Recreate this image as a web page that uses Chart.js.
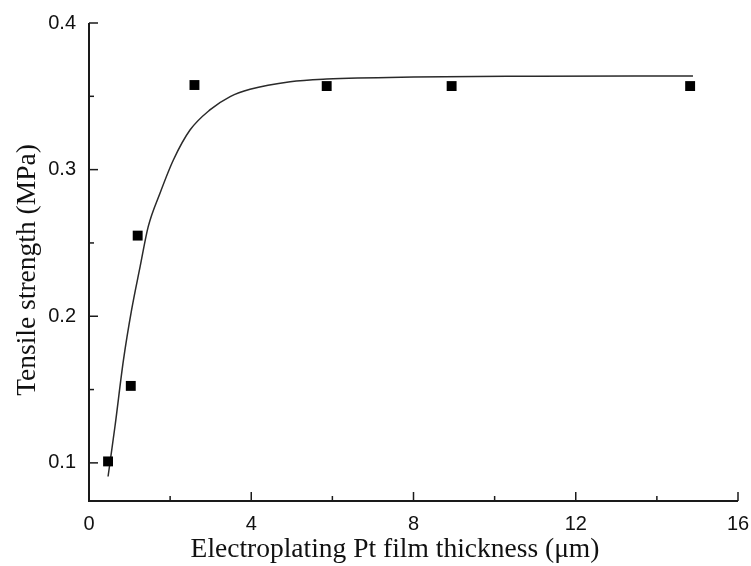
<!DOCTYPE html>
<html>
<head>
<meta charset="utf-8">
<script src="https://cdn.jsdelivr.net/npm/chart.js@4/dist/chart.umd.min.js"></script>
<style>
    html, body { margin: 0; padding: 0; background: #ffffff; }
    #wrap { width: 751px; height: 566px; }
</style>
</head>
<body>
<div id="wrap"><canvas id="tensileChart" width="751" height="566"></canvas></div>
<script>
// ===== measured data =====
const thickness = [0.47, 1.03, 1.2, 2.6, 5.86, 8.94, 14.82];
const strength = [0.101, 0.1525, 0.255, 0.3577, 0.357, 0.357, 0.357];

// fitted curve
const fitX = [0.47, 0.64, 0.85, 1.05, 1.26, 1.46, 1.75, 2.08, 2.49, 2.98, 3.48, 3.97, 4.96, 5.86, 8.0, 11.0, 14.89];
const fitY = [0.0907, 0.1248, 0.1702, 0.2043, 0.2338, 0.2611, 0.2839, 0.3066, 0.327, 0.3407, 0.3498, 0.3548, 0.36, 0.3618, 0.3632, 0.3637, 0.3639];

// axis ticks
const xTicks = [0, 2, 4, 6, 8, 10, 12, 14, 16];
const xLabels = [0, 4, 8, 12, 16];
const yTicks = [0.1, 0.15, 0.2, 0.25, 0.3, 0.35, 0.4];
const yLabels = [0.1, 0.2, 0.3, 0.4];

const xTitle = 'Electroplating Pt film thickness (\u03bcm)';
const yTitle = 'Tensile strength (MPa)';

// Draw axis lines, inward ticks and axis titles
const axisPlugin = {
    id: 'axisPlugin',
    afterDraw(chart) {
        const ctx = chart.ctx;
        const area = chart.chartArea;
        const xs = chart.scales.x;
        const ys = chart.scales.y;
        ctx.save();
        ctx.strokeStyle = '#1a1a1a';
        ctx.lineWidth = 2;
        ctx.beginPath();
        ctx.moveTo(area.left, area.top);
        ctx.lineTo(area.left, area.bottom);
        ctx.lineTo(area.right, area.bottom);
        ctx.stroke();

        ctx.lineWidth = 1.5;
        xTicks.forEach(v => {
            const px = xs.getPixelForValue(v);
            const len = xLabels.includes(v) ? 9 : 5;
            ctx.beginPath();
            ctx.moveTo(px, area.bottom);
            ctx.lineTo(px, area.bottom - len);
            ctx.stroke();
        });
        yTicks.forEach(v => {
            const py = ys.getPixelForValue(v);
            const len = yLabels.some(l => Math.abs(l - v) < 1e-9) ? 9 : 5;
            ctx.beginPath();
            ctx.moveTo(area.left, py);
            ctx.lineTo(area.left + len, py);
            ctx.stroke();
        });

        ctx.fillStyle = '#111';
        ctx.font = '27.5px "Liberation Serif", "Times New Roman", serif';
        ctx.textAlign = 'center';
        ctx.textBaseline = 'alphabetic';
        ctx.fillText(xTitle, 395, 557);

        ctx.translate(35, 270);
        ctx.rotate(-Math.PI / 2);
        ctx.fillText(yTitle, 0, 0);
        ctx.restore();
    }
};

const ctx = document.getElementById('tensileChart').getContext('2d');
const tensileChart = new Chart(ctx, {
    type: 'scatter',
    data: {
        datasets: [{
            label: 'Fit',
            type: 'line',
            data: fitX.map((x, i) => ({ x: x, y: fitY[i] })),
            borderColor: '#2a2a2a',
            borderWidth: 1.5,
            pointRadius: 0,
            fill: false,
            cubicInterpolationMode: 'monotone',
            order: 2
        }, {
            label: 'Tensile strength',
            data: thickness.map((x, i) => ({ x: x, y: strength[i] })),
            pointStyle: 'rect',
            pointRadius: 7,
            pointBackgroundColor: '#000000',
            pointBorderColor: '#000000',
            pointBorderWidth: 0,
            order: 1
        }]
    },
    options: {
        responsive: false,
        animation: false,
        layout: {
            padding: { left: 0, top: 23, right: 13, bottom: 0 }
        },
        plugins: {
            legend: { display: false },
            tooltip: { enabled: false }
        },
        scales: {
            x: {
                type: 'linear',
                min: 0,
                max: 16,
                afterBuildTicks: function(scale) {
                    scale.ticks = xTicks.map(v => ({ value: v }));
                },
                afterFit: function(scale) {
                    scale.height = 65;
                    scale.paddingLeft = 0;
                    scale.paddingRight = 0;
                },
                ticks: {
                    autoSkip: false,
                    maxRotation: 0,
                    padding: 11,
                    color: '#111',
                    font: { family: '"Liberation Sans", Arial, sans-serif', size: 20 },
                    callback: function(value) {
                        return xLabels.includes(value) ? String(value) : '';
                    }
                },
                grid: { display: false, drawTicks: false },
                border: { display: false }
            },
            y: {
                type: 'linear',
                min: 0.074,
                max: 0.4,
                afterBuildTicks: function(scale) {
                    scale.ticks = yTicks.map(v => ({ value: v }));
                },
                afterFit: function(scale) {
                    scale.width = 89;
                    scale.paddingTop = 0;
                    scale.paddingBottom = 0;
                },
                ticks: {
                    autoSkip: false,
                    padding: 13,
                    color: '#111',
                    font: { family: '"Liberation Sans", Arial, sans-serif', size: 20 },
                    callback: function(value) {
                        const hit = yLabels.find(l => Math.abs(l - value) < 1e-9);
                        return hit !== undefined ? hit.toFixed(1) : '';
                    }
                },
                grid: { display: false, drawTicks: false },
                border: { display: false }
            }
        }
    },
    plugins: [axisPlugin]
});
</script>
</body>
</html>
